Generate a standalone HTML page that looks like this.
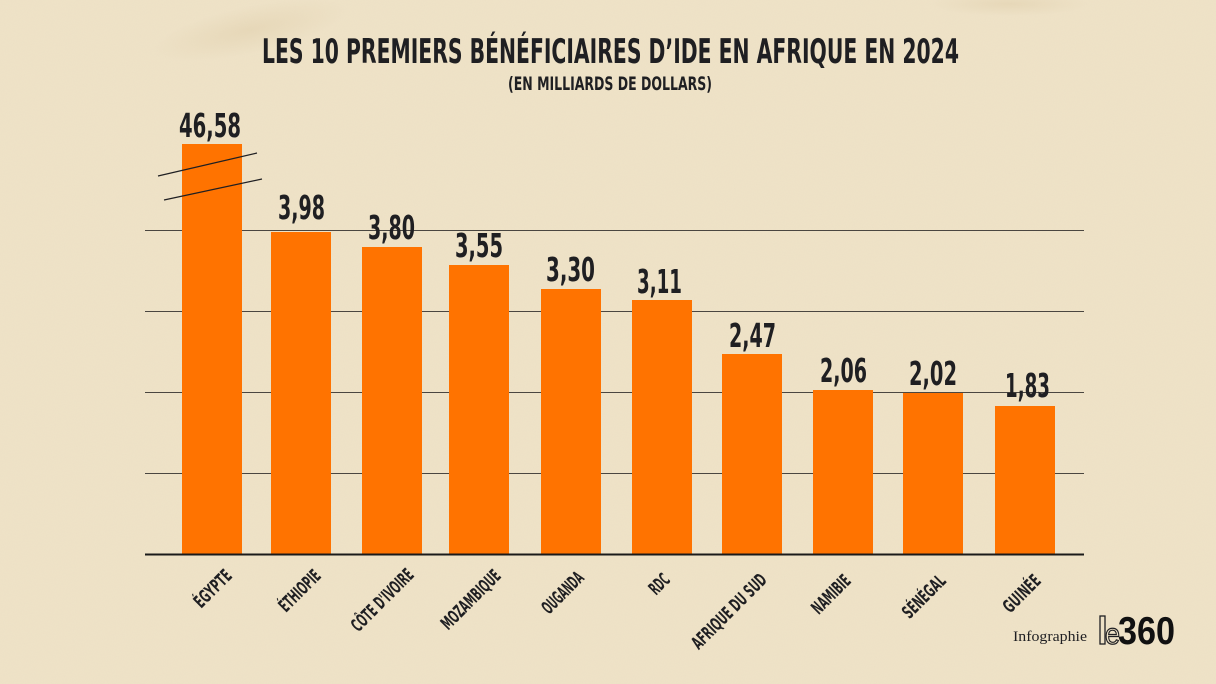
<!DOCTYPE html>
<html>
<head>
<meta charset="utf-8">
<style>
  html,body{margin:0;padding:0;width:1216px;height:684px;overflow:hidden;background:#efe3c8;}
  svg{display:block;}
  .cond{font-family:"Liberation Sans Narrow","DejaVu Sans Condensed","Liberation Sans",sans-serif;fill:#1f1f22;}
</style>
</head>
<body>
<svg width="1216" height="684" viewBox="0 0 1216 684" xmlns="http://www.w3.org/2000/svg">
  <defs>
    <radialGradient id="stain" cx="0.5" cy="0.5" r="0.5">
      <stop offset="0" stop-color="#d9c59e" stop-opacity="0.35"/>
      <stop offset="1" stop-color="#d9c59e" stop-opacity="0"/>
    </radialGradient>
    <filter id="grain" x="0" y="0" width="100%" height="100%">
      <feTurbulence type="fractalNoise" baseFrequency="0.9" numOctaves="2" seed="3" result="n"/>
      <feColorMatrix type="matrix" values="0 0 0 0 0.55  0 0 0 0 0.45  0 0 0 0 0.3  0 0 0 0.12 0"/>
    </filter>
  </defs>

  <!-- background -->
  <rect x="0" y="0" width="1216" height="684" fill="#efe3c8"/>
  <rect x="0" y="0" width="1216" height="684" filter="url(#grain)" opacity="0.5"/>
  <ellipse cx="250" cy="30" rx="100" ry="24" fill="url(#stain)" transform="rotate(-12 250 30)"/>
  <ellipse cx="1010" cy="4" rx="80" ry="12" fill="url(#stain)"/>

  <!-- title -->
  <text class="cond" x="262" y="63" font-size="34" font-weight="bold" textLength="697" lengthAdjust="spacingAndGlyphs">LES 10 PREMIERS BÉNÉFICIAIRES D’IDE EN AFRIQUE EN 2024</text>
  <text class="cond" x="508" y="90" font-size="19" font-weight="bold" textLength="204" lengthAdjust="spacingAndGlyphs">(EN MILLIARDS DE DOLLARS)</text>

  <!-- gridlines -->
  <g stroke="#4a4640" stroke-width="1">
    <line x1="145" y1="230.5" x2="1084" y2="230.5"/>
    <line x1="145" y1="311.5" x2="1084" y2="311.5"/>
    <line x1="145" y1="392.5" x2="1084" y2="392.5"/>
    <line x1="145" y1="473.5" x2="1084" y2="473.5"/>
  </g>

  <!-- bars -->
  <g fill="#ff7300">
    <rect x="182" y="144" width="60" height="410"/>
    <rect x="271" y="232" width="60" height="322"/>
    <rect x="362" y="247" width="60" height="307"/>
    <rect x="449" y="265" width="60" height="289"/>
    <rect x="541" y="289" width="60" height="265"/>
    <rect x="632" y="300" width="60" height="254"/>
    <rect x="722" y="354" width="60" height="200"/>
    <rect x="813" y="390" width="60" height="164"/>
    <rect x="903" y="393" width="60" height="161"/>
    <rect x="995" y="406" width="60" height="148"/>
  </g>

  <!-- break marks -->
  <g stroke="#1f1f22" stroke-width="1.2">
    <line x1="158" y1="176" x2="257" y2="153"/>
    <line x1="164" y1="200" x2="262" y2="179"/>
  </g>

  <!-- axis -->
  <line x1="145" y1="554.5" x2="1084" y2="554.5" stroke="#1a1a1a" stroke-width="2"/>

  <!-- values -->
  <g class="cond" font-size="33" font-weight="bold">
    <text x="179" y="137" textLength="62" lengthAdjust="spacingAndGlyphs">46,58</text>
    <text x="278" y="219" textLength="47" lengthAdjust="spacingAndGlyphs">3,98</text>
    <text x="368" y="239" textLength="47" lengthAdjust="spacingAndGlyphs">3,80</text>
    <text x="455" y="257" textLength="48" lengthAdjust="spacingAndGlyphs">3,55</text>
    <text x="546" y="281" textLength="49" lengthAdjust="spacingAndGlyphs">3,30</text>
    <text x="637" y="293" textLength="45" lengthAdjust="spacingAndGlyphs">3,11</text>
    <text x="729" y="347" textLength="47" lengthAdjust="spacingAndGlyphs">2,47</text>
    <text x="820" y="382" textLength="47" lengthAdjust="spacingAndGlyphs">2,06</text>
    <text x="909" y="385" textLength="48" lengthAdjust="spacingAndGlyphs">2,02</text>
    <text x="1005" y="397" textLength="45" lengthAdjust="spacingAndGlyphs">1,83</text>
  </g>

  <!-- x labels -->
  <g class="cond" font-size="18" font-weight="bold">
    <text transform="translate(233 577) rotate(-45)" x="-45" y="0" textLength="45" lengthAdjust="spacingAndGlyphs">ÉGYPTE</text>
    <text transform="translate(322 577) rotate(-45)" x="-51" y="0" textLength="51" lengthAdjust="spacingAndGlyphs">ÉTHIOPIE</text>
    <text transform="translate(415 576) rotate(-45)" x="-80" y="0" textLength="80" lengthAdjust="spacingAndGlyphs">CÔTE D'IVOIRE</text>
    <text transform="translate(502 577) rotate(-45)" x="-76" y="0" textLength="76" lengthAdjust="spacingAndGlyphs">MOZAMBIQUE</text>
    <text transform="translate(585 579) rotate(-45)" x="-51" y="0" textLength="51" lengthAdjust="spacingAndGlyphs">OUGANDA</text>
    <text transform="translate(671 581) rotate(-45)" x="-21" y="0" textLength="21" lengthAdjust="spacingAndGlyphs">RDC</text>
    <text transform="translate(768 581) rotate(-45)" x="-98" y="0" textLength="98" lengthAdjust="spacingAndGlyphs">AFRIQUE DU SUD</text>
    <text transform="translate(852 582) rotate(-45)" x="-47" y="0" textLength="47" lengthAdjust="spacingAndGlyphs">NAMIBIE</text>
    <text transform="translate(947 582) rotate(-45)" x="-53" y="0" textLength="53" lengthAdjust="spacingAndGlyphs">SÉNÉGAL</text>
    <text transform="translate(1042 582) rotate(-45)" x="-45" y="0" textLength="45" lengthAdjust="spacingAndGlyphs">GUINÉE</text>
  </g>

  <!-- logo -->
  <text x="1013" y="641" font-family="'Liberation Serif',serif" font-size="15" fill="#1f1f22" textLength="74" lengthAdjust="spacingAndGlyphs">Infographie</text>
  <rect x="1100" y="616" width="5" height="28" fill="none" stroke="#1f1f22" stroke-width="1.3"/>
  <text x="1105" y="644" font-family="'Liberation Sans',sans-serif" font-size="30" fill="none" stroke="#1f1f22" stroke-width="1.2" textLength="15" lengthAdjust="spacingAndGlyphs">e</text>
  <text x="1118" y="644" font-family="'Liberation Sans',sans-serif" font-size="39" font-weight="bold" fill="#111" textLength="57" lengthAdjust="spacingAndGlyphs">360</text>
</svg>
</body>
</html>
